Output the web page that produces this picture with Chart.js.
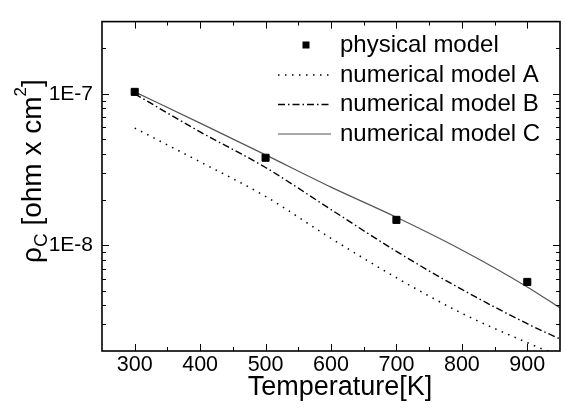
<!DOCTYPE html>
<html>
<head>
<meta charset="utf-8">
<script src="https://cdn.jsdelivr.net/npm/chart.js@4.4.0/dist/chart.umd.min.js"></script>
<style>
  html, body { margin: 0; padding: 0; background: #ffffff; }
</style>
</head>
<body>
<canvas id="rhoChart" width="566" height="415"></canvas>
<script>
// Data
const physTemps = [300, 500, 700, 900];
const physical = [1.03e-7, 3.78e-8, 1.47e-8, 5.72e-9];

const abTemps = [300, 400, 500, 600, 700, 800, 900, 950];
const modelA = [5.94e-8, 3.55e-8, 2.1e-8, 1.11e-8, 6.1e-9, 3.55e-9, 2.27e-9, 1.85e-9];
const modelB = [1.0e-7, 5.6e-8, 3.26e-8, 1.72e-8, 9.1e-9, 5.1e-9, 3.03e-9, 2.4e-9];

const cTemps = [300, 400, 500, 600, 700, 800, 900, 950];
const modelC = [1.03e-7, 6.4e-8, 3.95e-8, 2.42e-8, 1.53e-8, 9.3e-9, 5.3e-9, 3.85e-9];

const xTicks = [300, 400, 500, 600, 700, 800, 900];
const xMinorTicks = [350, 450, 550, 650, 750, 850];
const yTicks = [1e-8, 1e-7];
const yMinorTicks = [3e-9, 4e-9, 5e-9, 6e-9, 7e-9, 8e-9, 9e-9,
  2e-8, 3e-8, 4e-8, 5e-8, 6e-8, 7e-8, 8e-8, 9e-8, 2e-7];

const FONT = '"Liberation Sans", Arial, sans-serif';

const pts = (xs, ys) => xs.map((x, i) => ({ x: x, y: ys[i] }));

// frame with inward ticks on all four sides
const frameTicks = {
  id: "frameTicks",
  afterDatasetsDraw(chart) {
    const { ctx, chartArea: a, scales } = chart;
    const sx = scales.x, sy = scales.y;
    ctx.save();
    ctx.strokeStyle = "#000000";
    ctx.lineWidth = 1;
    ctx.beginPath();
    const tickX = (v, len) => {
      const px = Math.round(sx.getPixelForValue(v)) + 0.5;
      ctx.moveTo(px, a.bottom); ctx.lineTo(px, a.bottom - len);
      ctx.moveTo(px, a.top); ctx.lineTo(px, a.top + len);
    };
    const tickY = (v, len) => {
      const py = Math.round(sy.getPixelForValue(v)) + 0.5;
      ctx.moveTo(a.left, py); ctx.lineTo(a.left + len, py);
      ctx.moveTo(a.right, py); ctx.lineTo(a.right - len, py);
    };
    xTicks.forEach(v => tickX(v, 7));
    xMinorTicks.forEach(v => tickX(v, 4));
    yTicks.forEach(v => tickY(v, 7));
    yMinorTicks.forEach(v => tickY(v, 4));
    ctx.stroke();
    ctx.lineWidth = 1.6;
    ctx.strokeRect(a.left, a.top, a.right - a.left, a.bottom - a.top);
    ctx.restore();
  },
};

// legend inside the plot and the two axis titles
const labelsPlugin = {
  id: "labelsPlugin",
  afterDraw(chart) {
    const ctx = chart.ctx;
    const rows = [45, 75, 104.5, 134];
    ctx.save();
    chart.data.datasets.forEach((ds, i) => {
      const y = rows[i];
      ctx.strokeStyle = ds.borderColor;
      ctx.fillStyle = ds.borderColor;
      if (ds.showLine === false) {
        ctx.fillRect(302.5, y - 3.5, 7, 7);
      } else {
        ctx.lineWidth = ds.borderWidth;
        ctx.setLineDash(ds.borderDash || []);
        ctx.beginPath();
        ctx.moveTo(278, y);
        ctx.lineTo(331, y);
        ctx.stroke();
        ctx.setLineDash([]);
      }
      ctx.fillStyle = "#000000";
      ctx.font = "24px " + FONT;
      ctx.textBaseline = "middle";
      ctx.fillText(ds.label, 340, y);
    });

    // x title
    ctx.font = "27px " + FONT;
    ctx.textAlign = "center";
    ctx.textBaseline = "alphabetic";
    ctx.fillText("Temperature[K]", 340, 395);

    // y title, rotated, with sub/superscript
    ctx.translate(41, 263);
    ctx.rotate(-Math.PI / 2);
    ctx.textAlign = "left";
    let u = 0;
    const put = (txt, size, shift) => {
      ctx.font = size + "px " + FONT;
      ctx.fillText(txt, u, shift);
      u += ctx.measureText(txt).width;
    };
    put("\u03C1", 28, 0);
    put("C", 19, 6);
    put(" [ohm x cm", 28, 0);
    put("2", 17, -15);
    put("]", 28, 0);
    ctx.restore();
  },
};

const ctx = document.getElementById("rhoChart").getContext("2d");
window.rhoChart = new Chart(ctx, {
  type: "line",
  data: {
    datasets: [
      {
        label: "physical model",
        data: pts(physTemps, physical),
        showLine: false,
        pointStyle: "rect",
        pointRadius: 5,
        pointBackgroundColor: "#000000",
        pointBorderColor: "#000000",
        borderColor: "#000000",
        backgroundColor: "#000000",
      },
      {
        label: "numerical model A",
        data: pts(abTemps, modelA),
        borderColor: "#000000",
        borderWidth: 1.5,
        borderDash: [1.5, 5.5],
        pointRadius: 0,
        cubicInterpolationMode: "monotone",
      },
      {
        label: "numerical model B",
        data: pts(abTemps, modelB),
        borderColor: "#000000",
        borderWidth: 1.4,
        borderDash: [7, 3, 1.5, 3],
        pointRadius: 0,
        cubicInterpolationMode: "monotone",
      },
      {
        label: "numerical model C",
        data: pts(cTemps, modelC),
        borderColor: "#555555",
        borderWidth: 1.2,
        pointRadius: 0,
        cubicInterpolationMode: "monotone",
      },
    ],
  },
  options: {
    responsive: false,
    animation: false,
    layout: { padding: { top: 11, right: 5, left: 0, bottom: 0 } },
    scales: {
      x: {
        type: "linear",
        min: 250,
        max: 950,
        afterBuildTicks: s => { s.ticks = xTicks.map(v => ({ value: v })); },
        afterFit: s => { s.height = 64; },
        grid: { display: false, drawTicks: false },
        border: { display: false },
        ticks: {
          color: "#000000",
          padding: 1,
          maxRotation: 0,
          font: { size: 21.5, family: FONT },
        },
      },
      y: {
        type: "logarithmic",
        min: 2e-9,
        max: 3e-7,
        afterBuildTicks: s => { s.ticks = yTicks.map(v => ({ value: v })); },
        afterFit: s => { s.width = 102; },
        grid: { display: false, drawTicks: false },
        border: { display: false },
        ticks: {
          color: "#000000",
          padding: 9,
          font: { size: 21, family: FONT },
          callback: v => v.toExponential(0).toUpperCase(),
        },
      },
    },
    plugins: {
      legend: { display: false },
      tooltip: { enabled: false },
    },
  },
  plugins: [frameTicks, labelsPlugin],
});
</script>
</body>
</html>
